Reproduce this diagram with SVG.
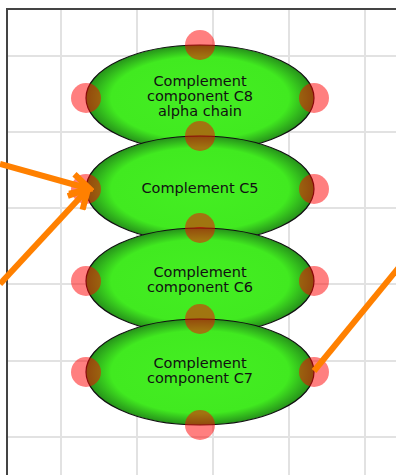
<svg xmlns="http://www.w3.org/2000/svg" width="396" height="475" viewBox="0 0 396 475">
  <style>
    .grid line { stroke: #e2e2e2; stroke-width: 2; }
    .body { fill: url(#nodeFill); stroke: #111; stroke-width: 1.2; }
    .port { fill: #ff0000; fill-opacity: 0.5; }
    .label { font-family: "DejaVu Sans", Verdana, sans-serif; font-size: 14.5px; fill: #111; text-anchor: middle; }
    .edge { fill: none; stroke: #ff8000; stroke-width: 6; }
  </style>
  <defs>
    <radialGradient id="nodeFill" cx="50%" cy="50%" r="50%">
      <stop offset="0" stop-color="#44ee22"/>
      <stop offset="0.78" stop-color="#41ea20"/>
      <stop offset="1" stop-color="#26921a"/>
    </radialGradient>
    <marker id="chevron" viewBox="0 0 10 10" refX="8.5" refY="5" markerWidth="4.2" markerHeight="4.2" markerUnits="strokeWidth" orient="auto">
      <path d="M1,1 L8.5,5 L1,9" fill="none" stroke="#ff8000" stroke-width="2.4"/>
    </marker>
  </defs>

  <rect width="396" height="475" fill="#ffffff"/>

  <!-- background grid -->
  <g class="grid">
    <line x1="61" y1="9" x2="61" y2="475"/>
    <line x1="137" y1="9" x2="137" y2="475"/>
    <line x1="213" y1="9" x2="213" y2="475"/>
    <line x1="289" y1="9" x2="289" y2="475"/>
    <line x1="365" y1="9" x2="365" y2="475"/>
    <line x1="7" y1="56" x2="396" y2="56"/>
    <line x1="7" y1="132" x2="396" y2="132"/>
    <line x1="7" y1="208" x2="396" y2="208"/>
    <line x1="7" y1="284" x2="396" y2="284"/>
    <line x1="7" y1="361" x2="396" y2="361"/>
    <line x1="7" y1="437" x2="396" y2="437"/>
  </g>

  <!-- canvas frame -->
  <path d="M7,475 V9 H396" fill="none" stroke="#444" stroke-width="2"/>

  <g id="node-c8">
    <ellipse class="body" cx="200" cy="98" rx="114" ry="53"/>
    <circle class="port" cx="200" cy="45" r="15"/>
    <circle class="port" cx="86" cy="98" r="15"/>
    <circle class="port" cx="314" cy="98" r="15"/>
    <circle class="port" cx="200" cy="151" r="15"/>
    <text class="label" x="200" y="86">Complement</text>
    <text class="label" x="200" y="101">component C8</text>
    <text class="label" x="200" y="116">alpha chain</text>
  </g>

  <g id="node-c5">
    <ellipse class="body" cx="200" cy="189" rx="114" ry="53"/>
    <circle class="port" cx="200" cy="136" r="15"/>
    <circle class="port" cx="86" cy="189" r="15"/>
    <circle class="port" cx="314" cy="189" r="15"/>
    <circle class="port" cx="200" cy="242" r="15"/>
    <text class="label" x="200" y="193">Complement C5</text>
  </g>

  <g id="node-c6">
    <ellipse class="body" cx="200" cy="281" rx="114" ry="53"/>
    <circle class="port" cx="200" cy="228" r="15"/>
    <circle class="port" cx="86" cy="281" r="15"/>
    <circle class="port" cx="314" cy="281" r="15"/>
    <circle class="port" cx="200" cy="334" r="15"/>
    <text class="label" x="200" y="277">Complement</text>
    <text class="label" x="200" y="292">component C6</text>
  </g>

  <g id="node-c7">
    <ellipse class="body" cx="200" cy="372" rx="114" ry="53"/>
    <circle class="port" cx="200" cy="319" r="15"/>
    <circle class="port" cx="86" cy="372" r="15"/>
    <circle class="port" cx="314" cy="372" r="15"/>
    <circle class="port" cx="200" cy="425" r="15"/>
    <text class="label" x="200" y="368">Complement</text>
    <text class="label" x="200" y="383">component C7</text>
  </g>

  <!-- connectors -->
  <g id="edges">
    <path class="edge" d="M0,164 L90,189" marker-end="url(#chevron)"/>
    <path class="edge" d="M0,284 L88,189" marker-end="url(#chevron)"/>
    <path class="edge" d="M314,371 L400,266"/>
  </g>
</svg>
